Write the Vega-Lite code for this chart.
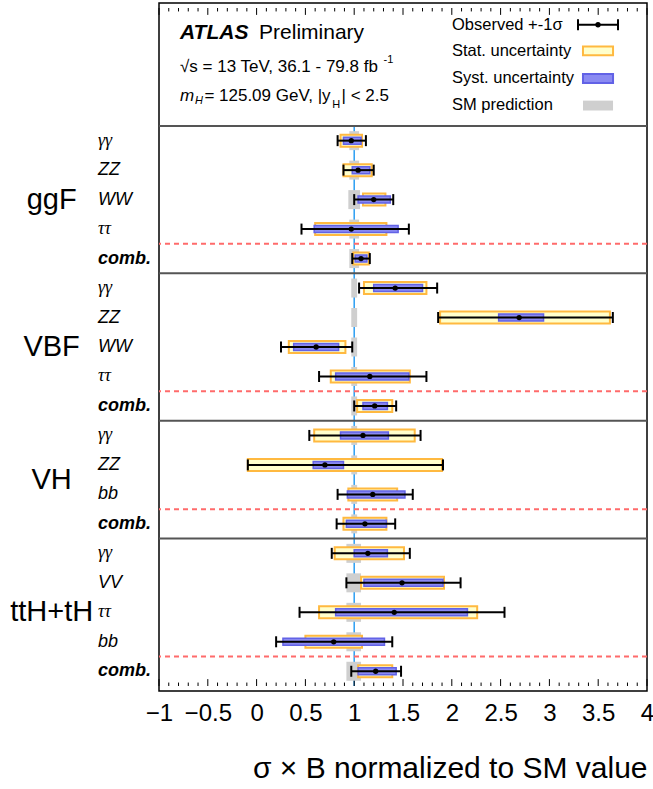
{
  "$schema": "https://vega.github.io/schema/vega-lite/v6.json",
  "width": 488,
  "height": 688,
  "autosize": "none",
  "padding": {"left": 159, "top": 3, "right": 6, "bottom": 98},
  "background": "white",
  "config": {
    "view": {"stroke": "black", "strokeWidth": 1.5},
    "font": "Liberation Sans"
  },
  "datasets": {
    "main": [
      {"process": "ggF", "channel": "γγ", "pos": 4.5, "obs": 0.97, "lo": 0.83, "hi": 1.12, "statLo": 0.86, "statHi": 1.08, "systLo": 0.89, "systHi": 1.07, "smLo": 0.95, "smHi": 1.05},
      {"process": "ggF", "channel": "ZZ", "pos": 5.5, "obs": 1.04, "lo": 0.89, "hi": 1.2, "statLo": 0.89, "statHi": 1.18, "systLo": 0.98, "systHi": 1.16, "smLo": 0.95, "smHi": 1.05},
      {"process": "ggF", "channel": "WW", "pos": 6.5, "obs": 1.2, "lo": 1.0, "hi": 1.4, "statLo": 1.09, "statHi": 1.32, "systLo": 1.04, "systHi": 1.37, "smLo": 0.94, "smHi": 1.06},
      {"process": "ggF", "channel": "ττ", "pos": 7.5, "obs": 0.97, "lo": 0.46, "hi": 1.56, "statLo": 0.6, "statHi": 1.33, "systLo": 0.59, "systHi": 1.45, "smLo": 0.95, "smHi": 1.05},
      {"process": "ggF", "channel": "comb.", "pos": 8.5, "obs": 1.07, "lo": 0.98, "hi": 1.16, "statLo": 0.99, "statHi": 1.15, "systLo": 1.01, "systHi": 1.13, "smLo": 0.95, "smHi": 1.05},
      {"process": "VBF", "channel": "γγ", "pos": 9.5, "obs": 1.42, "lo": 1.05, "hi": 1.85, "statLo": 1.1, "statHi": 1.74, "systLo": 1.2, "systHi": 1.7, "smLo": 0.97, "smHi": 1.03},
      {"process": "VBF", "channel": "ZZ", "pos": 10.5, "obs": 2.69, "lo": 1.86, "hi": 3.65, "statLo": 1.88, "statHi": 3.62, "systLo": 2.48, "systHi": 2.94, "smLo": 0.97, "smHi": 1.03},
      {"process": "VBF", "channel": "WW", "pos": 11.5, "obs": 0.61, "lo": 0.25, "hi": 0.98, "statLo": 0.33, "statHi": 0.91, "systLo": 0.38, "systHi": 0.84, "smLo": 0.97, "smHi": 1.03},
      {"process": "VBF", "channel": "ττ", "pos": 12.5, "obs": 1.16, "lo": 0.64, "hi": 1.74, "statLo": 0.76, "statHi": 1.57, "systLo": 0.81, "systHi": 1.56, "smLo": 0.97, "smHi": 1.03},
      {"process": "VBF", "channel": "comb.", "pos": 13.5, "obs": 1.21, "lo": 1.0, "hi": 1.43, "statLo": 1.03, "statHi": 1.39, "systLo": 1.09, "systHi": 1.34, "smLo": 0.97, "smHi": 1.03},
      {"process": "VH", "channel": "γγ", "pos": 14.5, "obs": 1.09, "lo": 0.54, "hi": 1.68, "statLo": 0.59, "statHi": 1.62, "systLo": 0.86, "systHi": 1.35, "smLo": 0.97, "smHi": 1.03},
      {"process": "VH", "channel": "ZZ", "pos": 15.5, "obs": 0.7, "lo": -0.09, "hi": 1.91, "statLo": -0.09, "statHi": 1.9, "systLo": 0.58, "systHi": 0.89, "smLo": 0.97, "smHi": 1.03},
      {"process": "VH", "channel": "bb", "pos": 16.5, "obs": 1.19, "lo": 0.83, "hi": 1.6, "statLo": 0.94, "statHi": 1.44, "systLo": 0.93, "systHi": 1.52, "smLo": 0.97, "smHi": 1.03},
      {"process": "VH", "channel": "comb.", "pos": 17.5, "obs": 1.11, "lo": 0.82, "hi": 1.42, "statLo": 0.89, "statHi": 1.33, "systLo": 0.92, "systHi": 1.33, "smLo": 0.97, "smHi": 1.03},
      {"process": "ttH+tH", "channel": "γγ", "pos": 18.5, "obs": 1.14, "lo": 0.77, "hi": 1.57, "statLo": 0.8, "statHi": 1.51, "systLo": 1.0, "systHi": 1.34, "smLo": 0.92, "smHi": 1.07},
      {"process": "ttH+tH", "channel": "VV", "pos": 19.5, "obs": 1.49, "lo": 0.92, "hi": 2.09, "statLo": 1.07, "statHi": 1.92, "systLo": 1.1, "systHi": 1.91, "smLo": 0.92, "smHi": 1.07},
      {"process": "ttH+tH", "channel": "ττ", "pos": 20.5, "obs": 1.41, "lo": 0.44, "hi": 2.54, "statLo": 0.64, "statHi": 2.26, "systLo": 0.81, "systHi": 2.16, "smLo": 0.92, "smHi": 1.07},
      {"process": "ttH+tH", "channel": "bb", "pos": 21.5, "obs": 0.79, "lo": 0.2, "hi": 1.39, "statLo": 0.5, "statHi": 1.08, "systLo": 0.27, "systHi": 1.31, "smLo": 0.92, "smHi": 1.07},
      {"process": "ttH+tH", "channel": "comb.", "pos": 22.5, "obs": 1.22, "lo": 0.97, "hi": 1.48, "statLo": 1.04, "statHi": 1.39, "systLo": 1.04, "systHi": 1.43, "smLo": 0.92, "smHi": 1.07}
    ],
    "groups": [
      {"process": "ggF", "mid": 6.5},
      {"process": "VBF", "mid": 11.5},
      {"process": "VH", "mid": 16.0},
      {"process": "ttH+tH", "mid": 20.5}
    ],
    "separators": [{"pos": 4}, {"pos": 9}, {"pos": 14}, {"pos": 18}],
    "combLines": [{"pos": 8}, {"pos": 13}, {"pos": 17}, {"pos": 22}],
    "majorTicks": [{"v": -1}, {"v": -0.5}, {"v": 0}, {"v": 0.5}, {"v": 1}, {"v": 1.5}, {"v": 2}, {"v": 2.5}, {"v": 3}, {"v": 3.5}, {"v": 4}],
    "minorTicks": [{"v": -0.9}, {"v": -0.8}, {"v": -0.7}, {"v": -0.6}, {"v": -0.4}, {"v": -0.3}, {"v": -0.2}, {"v": -0.1}, {"v": 0.1}, {"v": 0.2}, {"v": 0.3}, {"v": 0.4}, {"v": 0.6}, {"v": 0.7}, {"v": 0.8}, {"v": 0.9}, {"v": 1.1}, {"v": 1.2}, {"v": 1.3}, {"v": 1.4}, {"v": 1.6}, {"v": 1.7}, {"v": 1.8}, {"v": 1.9}, {"v": 2.1}, {"v": 2.2}, {"v": 2.3}, {"v": 2.4}, {"v": 2.6}, {"v": 2.7}, {"v": 2.8}, {"v": 2.9}, {"v": 3.1}, {"v": 3.2}, {"v": 3.3}, {"v": 3.4}, {"v": 3.6}, {"v": 3.7}, {"v": 3.8}, {"v": 3.9}]
  },
  "layer": [
    {
      "data": {"values": [{}]},
      "mark": {"type": "rule", "color": "#2b9ef3", "strokeWidth": 1.5},
      "encoding": {
        "x": {"datum": 1, "type": "quantitative", "scale": {"domain": [-1, 4], "nice": false, "zero": false},
          "axis": {
            "orient": "bottom",
            "values": [-1, -0.5, 0, 0.5, 1, 1.5, 2, 2.5, 3, 3.5, 4],
            "format": "~g",
            "ticks": false,
            "domain": false,
            "grid": false,
            "labelFontSize": 24, "labelColor": "black", "labelPadding": 10, "labelFont": "Liberation Sans", "labelFlush": false, "labelOverlap": false,
            "title": "σ × B normalized to SM value", "titleFontSize": 30, "titleFontWeight": "normal", "titleColor": "black", "titleFont": "Liberation Sans", "titleAnchor": "end", "titlePadding": 28
          }},
        "y": {"datum": 4, "type": "quantitative", "scale": {"domain": [0, 23], "nice": false, "zero": false, "reverse": true}, "axis": null},
        "y2": {"datum": 23}
      }
    },
    {
      "data": {"name": "majorTicks"},
      "mark": {"type": "rule", "color": "black", "strokeWidth": 1},
      "encoding": {"x": {"field": "v", "type": "quantitative"}, "y": {"datum": 22.766, "type": "quantitative"}, "y2": {"datum": 23}}
    },
    {
      "data": {"name": "majorTicks"},
      "mark": {"type": "rule", "color": "black", "strokeWidth": 1},
      "encoding": {"x": {"field": "v", "type": "quantitative"}, "y": {"datum": 0, "type": "quantitative"}, "y2": {"datum": 0.234}}
    },
    {
      "data": {"name": "minorTicks"},
      "mark": {"type": "rule", "color": "black", "strokeWidth": 1},
      "encoding": {"x": {"field": "v", "type": "quantitative"}, "y": {"datum": 22.883, "type": "quantitative"}, "y2": {"datum": 23}}
    },
    {
      "data": {"name": "minorTicks"},
      "mark": {"type": "rule", "color": "black", "strokeWidth": 1},
      "encoding": {"x": {"field": "v", "type": "quantitative"}, "y": {"datum": 0, "type": "quantitative"}, "y2": {"datum": 0.117}}
    },
    {
      "data": {"name": "main"},
      "mark": {"type": "bar", "orient": "horizontal", "height": 19, "color": "#cfcfcf"},
      "encoding": {
        "x": {"field": "smLo", "type": "quantitative"},
        "x2": {"field": "smHi"},
        "y": {"field": "pos", "type": "quantitative"}
      }
    },
    {
      "data": {"name": "main"},
      "mark": {"type": "bar", "orient": "horizontal", "height": 12, "fill": "#ffffcc", "stroke": "#ffb940", "strokeWidth": 2},
      "encoding": {
        "x": {"field": "statLo", "type": "quantitative"},
        "x2": {"field": "statHi"},
        "y": {"field": "pos", "type": "quantitative"}
      }
    },
    {
      "data": {"name": "main"},
      "mark": {"type": "bar", "orient": "horizontal", "height": 7, "fill": "#8a8af2", "stroke": "#6262e6", "strokeWidth": 1.5},
      "encoding": {
        "x": {"field": "systLo", "type": "quantitative"},
        "x2": {"field": "systHi"},
        "y": {"field": "pos", "type": "quantitative"}
      }
    },
    {
      "data": {"name": "main"},
      "mark": {"type": "rule", "color": "black", "strokeWidth": 2},
      "encoding": {
        "x": {"field": "lo", "type": "quantitative"},
        "x2": {"field": "hi"},
        "y": {"field": "pos", "type": "quantitative"}
      }
    },
    {
      "data": {"name": "main"},
      "mark": {"type": "tick", "orient": "vertical", "size": 11, "thickness": 2, "color": "black", "opacity": 1},
      "encoding": {
        "x": {"field": "lo", "type": "quantitative"},
        "y": {"field": "pos", "type": "quantitative"}
      }
    },
    {
      "data": {"name": "main"},
      "mark": {"type": "tick", "orient": "vertical", "size": 11, "thickness": 2, "color": "black", "opacity": 1},
      "encoding": {
        "x": {"field": "hi", "type": "quantitative"},
        "y": {"field": "pos", "type": "quantitative"}
      }
    },
    {
      "data": {"name": "main"},
      "mark": {"type": "circle", "size": 28, "color": "black", "opacity": 1},
      "encoding": {
        "x": {"field": "obs", "type": "quantitative"},
        "y": {"field": "pos", "type": "quantitative"}
      }
    },
    {
      "data": {"name": "combLines"},
      "mark": {"type": "rule", "color": "#ff6b6b", "strokeWidth": 2, "strokeDash": [5, 4]},
      "encoding": {
        "y": {"field": "pos", "type": "quantitative"}
      }
    },
    {
      "data": {"name": "separators"},
      "mark": {"type": "rule", "color": "#555555", "strokeWidth": 2},
      "encoding": {
        "y": {"field": "pos", "type": "quantitative"}
      }
    },
    {
      "data": {"name": "main"},
      "transform": [{"filter": "datum.channel == 'γγ' || datum.channel == 'ττ'"}],
      "mark": {"type": "text", "align": "left", "baseline": "middle", "font": "Liberation Serif", "fontStyle": "italic", "fontSize": 18, "color": "black"},
      "encoding": {
        "x": {"datum": -1.625, "type": "quantitative"},
        "y": {"field": "pos", "type": "quantitative"},
        "text": {"field": "channel"}
      }
    },
    {
      "data": {"name": "main"},
      "transform": [{"filter": "datum.channel == 'comb.'"}],
      "mark": {"type": "text", "align": "left", "baseline": "middle", "font": "Liberation Sans", "fontStyle": "italic", "fontWeight": "bold", "fontSize": 18, "color": "black"},
      "encoding": {
        "x": {"datum": -1.625, "type": "quantitative"},
        "y": {"field": "pos", "type": "quantitative"},
        "text": {"field": "channel"}
      }
    },
    {
      "data": {"name": "main"},
      "transform": [{"filter": "datum.channel != 'comb.' && datum.channel != 'γγ' && datum.channel != 'ττ'"}],
      "mark": {"type": "text", "align": "left", "baseline": "middle", "font": "Liberation Sans", "fontStyle": "italic", "fontSize": 18, "color": "black"},
      "encoding": {
        "x": {"datum": -1.625, "type": "quantitative"},
        "y": {"field": "pos", "type": "quantitative"},
        "text": {"field": "channel"}
      }
    },
    {
      "data": {"name": "groups"},
      "mark": {"type": "text", "align": "center", "baseline": "middle", "font": "Liberation Sans", "fontSize": 29, "color": "black"},
      "encoding": {
        "x": {"datum": -2.1, "type": "quantitative"},
        "y": {"field": "mid", "type": "quantitative"},
        "text": {"field": "process"}
      }
    },
    {
      "data": {"values": [{"t": "ATLAS"}]},
      "mark": {"type": "text", "align": "left", "baseline": "middle", "fontStyle": "italic", "fontWeight": "bold", "fontSize": 21, "color": "black"},
      "encoding": {"x": {"datum": -0.785, "type": "quantitative"}, "y": {"datum": 0.84, "type": "quantitative"}, "text": {"field": "t"}}
    },
    {
      "data": {"values": [{"t": "Preliminary"}]},
      "mark": {"type": "text", "align": "left", "baseline": "middle", "fontSize": 21, "color": "black"},
      "encoding": {"x": {"datum": 0.025, "type": "quantitative"}, "y": {"datum": 0.84, "type": "quantitative"}, "text": {"field": "t"}}
    },
    {
      "data": {"values": [{"t": "√s = 13 TeV, 36.1 - 79.8 fb"}]},
      "mark": {"type": "text", "align": "left", "baseline": "middle", "fontSize": 17, "color": "black"},
      "encoding": {"x": {"datum": -0.785, "type": "quantitative"}, "y": {"datum": 2.0, "type": "quantitative"}, "text": {"field": "t"}}
    },
    {
      "data": {"values": [{"t": "-1"}]},
      "mark": {"type": "text", "align": "left", "baseline": "middle", "fontSize": 11, "color": "black"},
      "encoding": {"x": {"datum": 1.3, "type": "quantitative"}, "y": {"datum": 1.78, "type": "quantitative"}, "text": {"field": "t"}}
    },
    {
      "data": {"values": [{"t": "m"}]},
      "mark": {"type": "text", "align": "left", "baseline": "middle", "fontSize": 17, "fontStyle": "italic", "color": "black"},
      "encoding": {"x": {"datum": -0.785, "type": "quantitative"}, "y": {"datum": 2.975, "type": "quantitative"}, "text": {"field": "t"}}
    },
    {
      "data": {"values": [{"t": "H"}]},
      "mark": {"type": "text", "align": "left", "baseline": "middle", "fontSize": 11, "fontStyle": "italic", "color": "black"},
      "encoding": {"x": {"datum": -0.631, "type": "quantitative"}, "y": {"datum": 3.15, "type": "quantitative"}, "text": {"field": "t"}}
    },
    {
      "data": {"values": [{"t": "= 125.09 GeV, |y"}]},
      "mark": {"type": "text", "align": "left", "baseline": "middle", "fontSize": 17, "color": "black"},
      "encoding": {"x": {"datum": -0.535, "type": "quantitative"}, "y": {"datum": 2.975, "type": "quantitative"}, "text": {"field": "t"}}
    },
    {
      "data": {"values": [{"t": "H"}]},
      "mark": {"type": "text", "align": "left", "baseline": "middle", "fontSize": 11, "color": "black"},
      "encoding": {"x": {"datum": 0.775, "type": "quantitative"}, "y": {"datum": 3.3, "type": "quantitative"}, "text": {"field": "t"}}
    },
    {
      "data": {"values": [{"t": "| < 2.5"}]},
      "mark": {"type": "text", "align": "left", "baseline": "middle", "fontSize": 17, "color": "black"},
      "encoding": {"x": {"datum": 0.87, "type": "quantitative"}, "y": {"datum": 2.975, "type": "quantitative"}, "text": {"field": "t"}}
    },
    {
      "data": {"values": [{"t": "Observed +-1σ", "p": 0.568}, {"t": "Stat. uncertainty", "p": 1.471}, {"t": "Syst. uncertainty", "p": 2.374}, {"t": "SM prediction", "p": 3.276}]},
      "mark": {"type": "text", "align": "left", "baseline": "middle", "fontSize": 16.5, "color": "black"},
      "encoding": {"x": {"datum": 2.002, "type": "quantitative"}, "y": {"field": "p", "type": "quantitative"}, "text": {"field": "t"}}
    },
    {
      "data": {"values": [{}]},
      "mark": {"type": "rule", "color": "black", "strokeWidth": 2},
      "encoding": {"x": {"datum": 3.293, "type": "quantitative"}, "x2": {"datum": 3.703}, "y": {"datum": 0.568, "type": "quantitative"}}
    },
    {
      "data": {"values": [{"a": 3.293}, {"a": 3.703}]},
      "mark": {"type": "tick", "orient": "vertical", "size": 11, "thickness": 2, "color": "black", "opacity": 1},
      "encoding": {"x": {"field": "a", "type": "quantitative"}, "y": {"datum": 0.568, "type": "quantitative"}}
    },
    {
      "data": {"values": [{}]},
      "mark": {"type": "circle", "size": 28, "color": "black", "opacity": 1},
      "encoding": {"x": {"datum": 3.498, "type": "quantitative"}, "y": {"datum": 0.568, "type": "quantitative"}}
    },
    {
      "data": {"values": [{}]},
      "mark": {"type": "rect", "fill": "#ffffcc", "stroke": "#ffb940", "strokeWidth": 2},
      "encoding": {"x": {"datum": 3.344, "type": "quantitative"}, "x2": {"datum": 3.652}, "y": {"datum": 1.304, "type": "quantitative"}, "y2": {"datum": 1.605}}
    },
    {
      "data": {"values": [{}]},
      "mark": {"type": "rect", "fill": "#8a8af2", "stroke": "#6262e6", "strokeWidth": 2},
      "encoding": {"x": {"datum": 3.344, "type": "quantitative"}, "x2": {"datum": 3.652}, "y": {"datum": 2.24, "type": "quantitative"}, "y2": {"datum": 2.541}}
    },
    {
      "data": {"values": [{}]},
      "mark": {"type": "rect", "fill": "#cfcfcf"},
      "encoding": {"x": {"datum": 3.344, "type": "quantitative"}, "x2": {"datum": 3.652}, "y": {"datum": 3.142, "type": "quantitative"}, "y2": {"datum": 3.477}}
    }
  ]
}
